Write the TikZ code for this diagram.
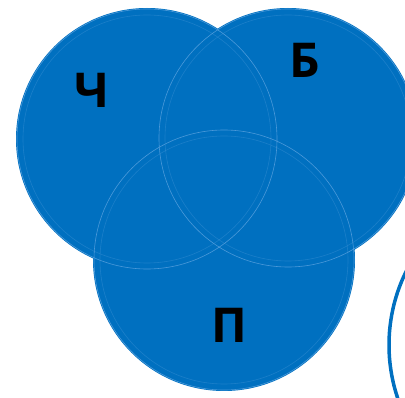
\documentclass[tikz,border=0pt]{standalone}
\usepackage{fontspec}
\setmainfont{Open Sans}
\usetikzlibrary{positioning}

\definecolor{vennblue}{HTML}{0070C0}
\definecolor{vennline}{HTML}{5DA3E0}

\begin{document}
\begin{tikzpicture}[x=1pt, y=-1pt,
  setfill/.style={fill=vennblue},
  rimline/.style={draw=vennline, line width=0.6pt},
  setlabel/.style={font=\fontsize{48}{48}\selectfont\bfseries, text=black, inner sep=0pt},
  outline/.style={draw=vennblue, line width=3.5pt},
]

\useasboundingbox (0,0) rectangle (405,398);

% === Centres of the three sets ===
\coordinate (cc) at (147,139);
\coordinate (cb) at (288,138);
\coordinate (cp) at (224,260);

\begin{scope}
  \clip (0,0) rectangle (405,398);

  % === Filled discs ===
  \fill[setfill] (cc) circle (131);
  \fill[setfill] (cb) circle (130);
  \fill[setfill] (cp) circle (131);

  % === Light rims on top ===
  \foreach \c/\r in {cc/131, cb/130, cp/131} {
    \draw[rimline, opacity=0.8] (\c) circle (\r-1);
    \draw[rimline, opacity=0.3] (\c) circle (\r-7);
  }

  % === Partial ring at the lower right ===
  \draw[outline] (555,345) circle (166);
\end{scope}

% === Set labels ===
\node[setlabel] (lc) at (92,90) {Ч};
\node[setlabel] (lb) at (305,60) {Б};
\node[setlabel] (lp) at (229,325) {П};

\end{tikzpicture}
\end{document}
